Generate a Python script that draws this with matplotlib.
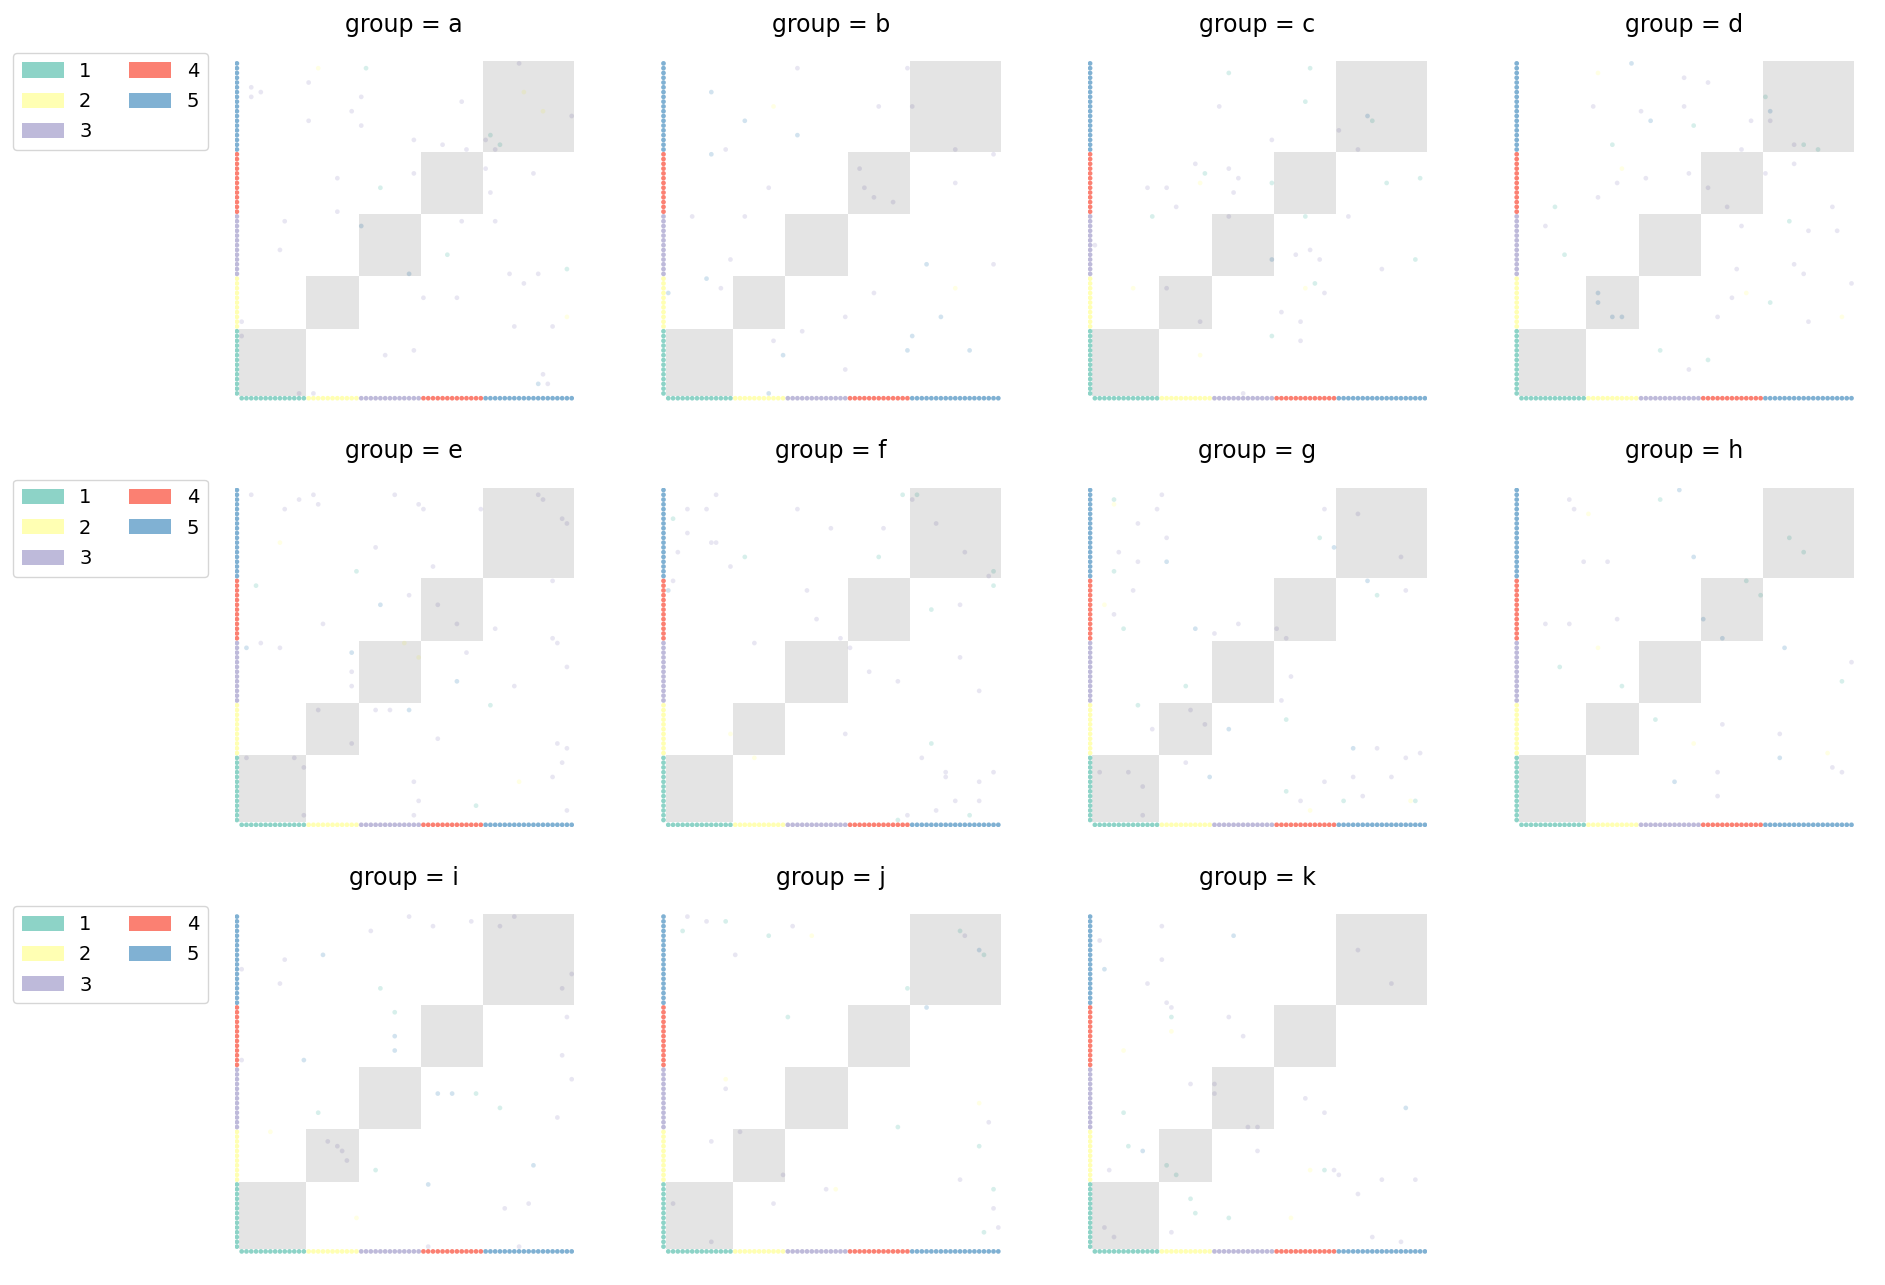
import numpy as np
import matplotlib
matplotlib.use("Agg")
import matplotlib.pyplot as plt
from matplotlib.patches import Rectangle, Patch

# node categories (sorted), sizes per category
cat_labels = ["1", "2", "3", "4", "5"]
cat_sizes = [14, 11, 13, 13, 19]
cat_colors = ["#8dd3c7", "#ffffb3", "#bebada", "#fb8072", "#80b1d3"]

groups = ["a", "b", "c", "d", "e", "f", "g", "h", "i", "j", "k"]

# edges: (source index, target index, edge category)
edges_a = [(16, 68, 2), (26, 68, 1), (14, 65, 3), (2, 64, 3), (4, 63, 3), (2, 62, 3), (25, 62, 3),
           (46, 61, 3), (23, 59, 3), (14, 57, 3), (25, 56, 3), (36, 53, 3), (42, 52, 3), (47, 51, 3),
           (58, 69, 3), (59, 63, 2), (63, 59, 2), (69, 58, 3), (52, 54, 1), (51, 53, 3), (54, 52, 1),
           (53, 51, 3), (51, 47, 3), (61, 46, 3), (36, 46, 3), (20, 45, 3), (29, 43, 1), (52, 42, 3),
           (20, 38, 3), (9, 36, 3), (46, 36, 3), (53, 36, 3), (8, 30, 3), (25, 35, 5), (43, 29, 1),
           (35, 25, 5), (56, 25, 3), (62, 25, 3), (68, 26, 1), (59, 23, 3), (38, 20, 3), (45, 20, 3),
           (0, 15, 3), (68, 16, 2), (57, 14, 3), (65, 14, 3), (0, 12, 3), (30, 8, 3), (36, 9, 3),
           (63, 4, 3), (62, 2, 5), (64, 2, 3), (12, 0, 3), (15, 0, 3)]
edges_b = [(27, 68, 3), (50, 68, 3), (9, 63, 5), (22, 60, 2), (44, 60, 3), (51, 60, 3), (16, 57, 5),
           (27, 54, 5), (9, 50, 5), (12, 51, 3), (60, 51, 3), (68, 50, 3), (40, 47, 3), (21, 43, 3),
           (41, 43, 3), (43, 41, 3), (47, 40, 3), (60, 44, 3), (5, 37, 3), (16, 37, 3), (13, 28, 3),
           (54, 27, 5), (68, 27, 3), (8, 24, 5), (11, 22, 3), (0, 21, 5), (43, 21, 3), (60, 22, 2),
           (37, 16, 3), (57, 16, 5), (28, 13, 3), (22, 11, 3), (51, 12, 5), (24, 8, 5), (50, 9, 5),
           (63, 9, 5), (37, 5, 3), (21, 0, 5)]
edges_c = [(28, 67, 1), (45, 68, 1), (26, 60, 3), (44, 61, 1), (57, 58, 5), (58, 57, 1), (51, 55, 3),
           (55, 51, 3), (37, 53, 3), (21, 48, 3), (28, 47, 3), (23, 46, 1), (30, 45, 3), (22, 44, 2),
           (37, 44, 1), (11, 43, 3), (15, 43, 3), (29, 42, 3), (61, 44, 1), (68, 45, 1), (17, 39, 3),
           (12, 37, 1), (28, 37, 3), (44, 37, 1), (53, 37, 3), (0, 31, 3), (42, 29, 3), (45, 30, 3),
           (47, 28, 3), (37, 28, 5), (67, 28, 1), (60, 26, 3), (8, 22, 2), (15, 22, 3), (44, 22, 2),
           (46, 23, 1), (48, 21, 3), (39, 17, 3), (22, 15, 3), (43, 15, 3), (37, 12, 1), (43, 11, 3),
           (22, 8, 2), (31, 0, 3)]
edges_d = [(23, 69, 5), (16, 67, 2), (34, 66, 3), (39, 65, 3), (51, 62, 1), (52, 59, 5), (52, 57, 3),
           (15, 60, 3), (25, 59, 3), (34, 60, 3), (27, 57, 5), (36, 56, 1), (48, 57, 3), (19, 52, 1),
           (46, 51, 3), (57, 52, 3), (59, 52, 1), (62, 51, 1), (57, 48, 3), (21, 47, 2), (26, 45, 3),
           (35, 46, 3), (51, 46, 3), (20, 44, 3), (39, 43, 3), (16, 41, 3), (7, 39, 1), (43, 39, 3),
           (65, 39, 3), (5, 35, 3), (46, 35, 3), (56, 36, 1), (60, 34, 3), (66, 34, 3), (9, 29, 1),
           (45, 26, 3), (57, 27, 3), (59, 25, 3), (69, 23, 3), (16, 21, 5), (16, 19, 5), (19, 16, 5),
           (21, 16, 5), (44, 20, 3), (47, 21, 2), (52, 19, 1), (41, 16, 3), (60, 15, 3), (67, 16, 2),
           (29, 9, 1), (39, 7, 1), (35, 5, 3)]
edges_e = [(2, 68, 3), (15, 68, 3), (12, 67, 3), (16, 66, 3), (9, 65, 3), (32, 68, 3), (37, 66, 3),
           (38, 65, 3), (50, 65, 3), (62, 68, 3), (63, 67, 3), (67, 63, 3), (68, 62, 3), (8, 58, 2),
           (28, 57, 3), (24, 52, 1), (40, 53, 3), (3, 49, 1), (65, 50, 3), (35, 47, 3), (29, 45, 5),
           (41, 45, 3), (17, 41, 3), (45, 41, 3), (53, 40, 3), (65, 38, 3), (66, 37, 3), (4, 37, 3),
           (1, 36, 5), (8, 36, 3), (34, 37, 2), (37, 34, 2), (23, 35, 5), (47, 35, 3), (68, 32, 3),
           (23, 31, 3), (23, 28, 3), (45, 29, 5), (57, 28, 3), (16, 23, 3), (28, 23, 3), (31, 23, 3),
           (35, 23, 5), (52, 24, 1), (41, 17, 3), (23, 16, 3), (66, 16, 3), (68, 15, 3), (1, 13, 3),
           (11, 13, 3), (13, 11, 3), (67, 12, 3), (36, 8, 3), (58, 8, 2), (65, 9, 3), (37, 4, 3),
           (49, 3, 1), (36, 1, 3), (13, 1, 3), (68, 2, 3)]
edges_f = [(10, 68, 3), (4, 65, 3), (8, 65, 3), (1, 63, 1), (27, 65, 3), (49, 68, 1), (52, 68, 1),
           (51, 67, 3), (34, 61, 3), (45, 61, 3), (56, 62, 3), (4, 60, 3), (9, 58, 3), (10, 58, 3),
           (2, 56, 3), (16, 55, 1), (44, 55, 1), (62, 56, 3), (13, 53, 3), (67, 51, 3), (68, 52, 1),
           (1, 50, 3), (0, 48, 5), (29, 48, 3), (68, 49, 1), (55, 44, 1), (61, 45, 3), (31, 42, 3),
           (36, 38, 3), (38, 36, 3), (18, 37, 3), (61, 34, 3), (42, 31, 3), (48, 29, 3), (65, 27, 3),
           (13, 18, 2), (37, 18, 3), (55, 16, 1), (18, 13, 2), (53, 13, 3), (58, 10, 3), (58, 9, 3),
           (68, 10, 3), (65, 8, 3), (60, 4, 3), (65, 4, 3), (56, 2, 3), (50, 1, 3), (48, 0, 1),
           (63, 1, 1)]
edges_g = [(14, 68, 3), (4, 67, 1), (4, 66, 2), (13, 65, 3), (9, 62, 3), (15, 59, 3), (48, 65, 3),
           (55, 64, 3), (47, 59, 1), (50, 57, 5), (5, 56, 3), (9, 54, 3), (15, 54, 5), (64, 55, 3),
           (4, 52, 1), (57, 50, 5), (8, 48, 3), (59, 47, 1), (65, 48, 3), (2, 45, 2), (4, 43, 3),
           (6, 40, 1), (21, 40, 5), (25, 39, 3), (30, 41, 3), (38, 40, 3), (40, 38, 3), (41, 30, 3),
           (19, 28, 1), (39, 25, 3), (9, 24, 1), (20, 23, 3), (23, 20, 3), (12, 19, 3), (28, 19, 5),
           (40, 21, 1), (54, 15, 5), (59, 15, 3), (65, 13, 3), (68, 14, 3), (19, 12, 3), (1, 10, 3),
           (7, 10, 3), (10, 7, 3), (10, 1, 3), (24, 9, 5), (48, 8, 3), (54, 9, 3), (62, 9, 3),
           (40, 6, 1), (43, 4, 3), (52, 4, 1), (56, 5, 3), (66, 4, 2), (67, 4, 1), (45, 2, 2)]
edges_h = [(33, 69, 5), (10, 67, 3), (29, 67, 1), (11, 65, 3), (14, 64, 2), (56, 59, 1), (59, 56, 1),
           (13, 54, 3), (18, 54, 3), (36, 55, 5), (47, 50, 1), (50, 47, 1), (38, 42, 5), (42, 38, 5),
           (5, 41, 3), (10, 41, 3), (20, 42, 3), (16, 36, 2), (55, 36, 5), (69, 33, 3), (8, 32, 1),
           (21, 28, 1), (67, 29, 1), (28, 21, 1), (42, 20, 3), (54, 18, 3), (36, 16, 2), (64, 14, 2),
           (54, 13, 5), (65, 11, 3), (67, 10, 3), (41, 10, 3), (32, 8, 5), (41, 5, 3)]
edges_i = [(35, 69, 3), (57, 69, 3), (40, 67, 3), (48, 68, 3), (54, 67, 3), (27, 66, 3), (9, 60, 3),
           (17, 61, 5), (0, 58, 3), (8, 55, 3), (29, 54, 1), (69, 57, 3), (67, 54, 3), (32, 49, 1),
           (68, 48, 3), (32, 44, 5), (32, 41, 5), (0, 39, 3), (13, 39, 5), (67, 40, 3), (69, 35, 3),
           (41, 32, 5), (44, 32, 5), (49, 32, 1), (54, 29, 1), (16, 28, 1), (66, 27, 3), (6, 24, 2),
           (18, 22, 3), (20, 21, 3), (21, 20, 3), (22, 18, 3), (28, 16, 1), (61, 17, 5), (39, 13, 5),
           (60, 9, 3), (55, 8, 3), (24, 6, 2), (39, 0, 3), (58, 0, 3)]
edges_j = [(4, 69, 3), (8, 68, 3), (12, 68, 1), (3, 66, 1), (26, 67, 3), (21, 65, 1), (30, 65, 2),
           (14, 61, 3), (61, 66, 1), (62, 65, 3), (65, 62, 5), (66, 61, 1), (50, 54, 1), (54, 50, 5),
           (25, 48, 1), (12, 35, 2), (12, 33, 3), (65, 30, 2), (67, 26, 3), (48, 25, 1), (15, 24, 3),
           (9, 22, 3), (65, 21, 1), (24, 15, 3), (61, 14, 3), (33, 12, 3), (35, 12, 2), (68, 12, 1),
           (1, 9, 3), (22, 9, 3), (68, 8, 3), (66, 3, 1), (69, 4, 3), (9, 1, 3)]
edges_k = [(14, 67, 3), (1, 64, 3), (29, 65, 5), (14, 60, 3), (2, 58, 5), (11, 55, 3), (55, 62, 3),
           (62, 55, 3), (15, 51, 3), (16, 50, 3), (16, 48, 1), (28, 48, 3), (16, 45, 2), (31, 44, 3),
           (6, 41, 2), (20, 34, 3), (25, 34, 3), (25, 32, 3), (32, 25, 3), (34, 25, 3), (44, 31, 3),
           (48, 28, 3), (65, 29, 5), (6, 28, 1), (7, 21, 1), (10, 20, 5), (3, 16, 3), (15, 17, 1),
           (17, 15, 1), (34, 20, 3), (45, 16, 2), (48, 16, 1), (50, 16, 3), (51, 15, 3), (60, 14, 3),
           (67, 14, 3), (55, 11, 3), (20, 10, 1), (21, 7, 1), (28, 6, 1), (41, 6, 2), (16, 3, 3),
           (2, 4, 3), (4, 2, 3), (58, 2, 3), (64, 1, 3)]

all_edges = [edges_a, edges_b, edges_c, edges_d, edges_e, edges_f,
             edges_g, edges_h, edges_i, edges_j, edges_k]

starts = np.concatenate([[0], np.cumsum(cat_sizes)[:-1]])
n_nodes = sum(cat_sizes)
node_cat = np.repeat(np.arange(len(cat_sizes)), cat_sizes)
node_col = [cat_colors[c] for c in node_cat]
idx = np.arange(n_nodes)

W, H = 1885, 1285
fig = plt.figure(figsize=(W / 100, H / 100), dpi=100)

size_px = 339.6
step = 426.6
for k, g in enumerate(groups):
    row, col = k // 4, k % 4
    left = 234.5 + step * col
    top = 61 + step * row
    ax = fig.add_axes([left / W, 1 - (top + size_px) / H, size_px / W, size_px / H])

    # within-category blocks
    for s, n in zip(starts, cat_sizes):
        ax.add_patch(Rectangle((s - 0.5, s - 0.5), n, n, facecolor="k", alpha=0.105,
                               edgecolor="none", zorder=3))

    e = np.array(all_edges[k])
    ecol = [cat_colors[c - 1] for c in e[:, 2]]
    ax.scatter(e[:, 0], e[:, 1], s=11.5, c=ecol, alpha=0.35, linewidths=0, zorder=2)

    # node markers along the axes
    ax.scatter(np.full(n_nodes, -1), idx, s=11.5, c=node_col, linewidths=0, zorder=4)
    ax.scatter(idx, np.full(n_nodes, -1), s=11.5, c=node_col, linewidths=0, zorder=4)

    ax.set_xlim(-1.5, n_nodes - 0.5)
    ax.set_ylim(-1.5, n_nodes - 0.5)
    ax.set_axis_off()
    ax.set_title("group = %s" % g, fontsize=17, pad=21)

# one legend per row
handles = [Patch(facecolor=c, label=l) for c, l in zip(cat_colors, cat_labels)]
for row in range(3):
    top = 53 + step * row
    fig.legend(handles=handles, loc="upper right", ncol=2, fontsize=14,
               bbox_to_anchor=(208 / W, 1 - top / H), borderaxespad=0,
               handlelength=2.15, handleheight=0.82, labelspacing=0.58,
               borderpad=0.45, columnspacing=1.95)

fig.savefig("out.png", dpi=100)
